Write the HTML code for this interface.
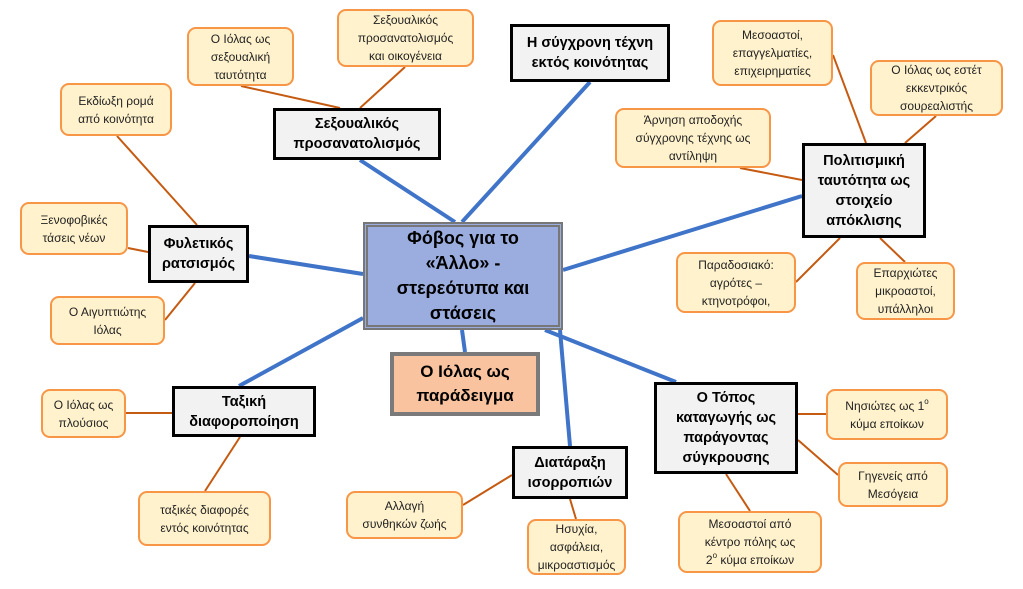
<!DOCTYPE html>
<html><head><meta charset="utf-8"><style>
body{margin:0;background:#fff;width:1023px;height:589px;overflow:hidden;font-family:"Liberation Sans","DejaVu Sans",sans-serif;}
.b{position:absolute;box-sizing:border-box;display:flex;align-items:center;justify-content:center;text-align:center;}
.t{background:#f2f2f2;border:3px solid #000;font-weight:bold;font-size:14.5px;line-height:20px;color:#000;}
.l{background:#fff2cc;border:2px solid #f79646;border-radius:9px;font-size:12px;line-height:18px;color:#222;}
sup{font-size:8px;line-height:0;vertical-align:6px;}
</style></head><body>
<svg width="1023" height="589" style="position:absolute;left:0;top:0">
<g stroke="#3f74c8" stroke-width="4" fill="none">
<line x1="360" y1="160" x2="455" y2="222"/>
<line x1="462" y1="222" x2="590" y2="82"/>
<line x1="249" y1="256" x2="363" y2="274"/>
<line x1="563" y1="270" x2="802" y2="196"/>
<line x1="239" y1="386" x2="363" y2="318"/>
<line x1="560" y1="330" x2="570" y2="446"/>
<line x1="545" y1="330" x2="676" y2="382"/>
<line x1="462" y1="330" x2="465" y2="352"/>
</g>
<g stroke="#c55a11" stroke-width="2" fill="none">
<line x1="241" y1="86" x2="340" y2="108"/>
<line x1="405" y1="67" x2="360" y2="108"/>
<line x1="117" y1="136" x2="197" y2="225"/>
<line x1="128" y1="248" x2="148" y2="252"/>
<line x1="165" y1="320" x2="195" y2="283"/>
<line x1="126" y1="413" x2="172" y2="413"/>
<line x1="205" y1="491" x2="240" y2="437"/>
<line x1="463" y1="505" x2="512" y2="475"/>
<line x1="576" y1="519" x2="570" y2="499"/>
<line x1="750" y1="511" x2="726" y2="474"/>
<line x1="826" y1="414" x2="798" y2="414"/>
<line x1="838" y1="475" x2="798" y2="440"/>
<line x1="905" y1="262" x2="880" y2="238"/>
<line x1="796" y1="282" x2="840" y2="238"/>
<line x1="740" y1="168" x2="802" y2="180"/>
<line x1="833" y1="55" x2="866" y2="143"/>
<line x1="936" y1="116" x2="905" y2="143"/>
</g>
</svg>
<div class="b" style="left:363px;top:222px;width:200px;height:108px;background:#9badde;border:5px double #777;font-weight:bold;font-size:18px;line-height:25px;"><span>Φόβος για το<br>«Άλλο» -<br>στερεότυπα και<br>στάσεις</span></div>
<div class="b" style="left:390px;top:352px;width:150px;height:64px;background:#f9c39f;border:4px solid #7a7a7a;font-weight:bold;font-size:17px;line-height:24px;"><span>Ο Ιόλας ως<br>παράδειγμα</span></div>

<div class="b t" style="left:273px;top:108px;width:168px;height:52px"><span>Σεξουαλικός<br>προσανατολισμός</span></div>
<div class="b t" style="left:510px;top:24px;width:160px;height:58px"><span>Η σύγχρονη τέχνη<br>εκτός κοινότητας</span></div>
<div class="b t" style="left:802px;top:143px;width:124px;height:95px"><span>Πολιτισμική<br>ταυτότητα ως<br>στοιχείο<br>απόκλισης</span></div>
<div class="b t" style="left:148px;top:225px;width:101px;height:58px"><span>Φυλετικός<br>ρατσισμός</span></div>
<div class="b t" style="left:172px;top:386px;width:144px;height:51px"><span>Ταξική<br>διαφοροποίηση</span></div>
<div class="b t" style="left:512px;top:446px;width:116px;height:53px"><span>Διατάραξη<br>ισορροπιών</span></div>
<div class="b t" style="left:654px;top:382px;width:144px;height:92px"><span>Ο Τόπος<br>καταγωγής ως<br>παράγοντας<br>σύγκρουσης</span></div>

<div class="b l" style="left:337px;top:9px;width:137px;height:58px"><span>Σεξουαλικός<br>προσανατολισμός<br>και οικογένεια</span></div>
<div class="b l" style="left:187px;top:27px;width:107px;height:59px"><span>Ο Ιόλας ως<br>σεξουαλική<br>ταυτότητα</span></div>
<div class="b l" style="left:60px;top:83px;width:112px;height:53px"><span>Εκδίωξη ρομά<br>από κοινότητα</span></div>
<div class="b l" style="left:20px;top:202px;width:108px;height:53px"><span>Ξενοφοβικές<br>τάσεις νέων</span></div>
<div class="b l" style="left:50px;top:296px;width:115px;height:49px"><span>Ο Αιγυπτιώτης<br>Ιόλας</span></div>
<div class="b l" style="left:41px;top:389px;width:85px;height:49px"><span>Ο Ιόλας ως<br>πλούσιος</span></div>
<div class="b l" style="left:138px;top:491px;width:133px;height:55px"><span>ταξικές διαφορές<br>εντός κοινότητας</span></div>
<div class="b l" style="left:346px;top:491px;width:117px;height:48px"><span>Αλλαγή<br>συνθηκών ζωής</span></div>
<div class="b l" style="left:527px;top:519px;width:99px;height:56px"><span>Ησυχία,<br>ασφάλεια,<br>μικροαστισμός</span></div>
<div class="b l" style="left:678px;top:511px;width:144px;height:62px"><span>Μεσοαστοί από<br>κέντρο πόλης ως<br>2<sup>ο</sup> κύμα εποίκων</span></div>
<div class="b l" style="left:826px;top:389px;width:122px;height:51px"><span>Νησιώτες ως 1<sup>ο</sup><br>κύμα εποίκων</span></div>
<div class="b l" style="left:838px;top:462px;width:110px;height:45px"><span>Γηγενείς από<br>Μεσόγεια</span></div>
<div class="b l" style="left:856px;top:262px;width:99px;height:58px"><span>Επαρχιώτες<br>μικροαστοί,<br>υπάλληλοι</span></div>
<div class="b l" style="left:676px;top:252px;width:120px;height:61px"><span>Παραδοσιακό:<br>αγρότες –<br>κτηνοτρόφοι,</span></div>
<div class="b l" style="left:615px;top:108px;width:156px;height:60px"><span>Άρνηση αποδοχής<br>σύγχρονης τέχνης ως<br>αντίληψη</span></div>
<div class="b l" style="left:712px;top:20px;width:121px;height:66px"><span>Μεσοαστοί,<br>επαγγελματίες,<br>επιχειρηματίες</span></div>
<div class="b l" style="left:870px;top:60px;width:133px;height:56px"><span>Ο Ιόλας ως εστέτ<br>εκκεντρικός<br>σουρεαλιστής</span></div>
</body></html>
